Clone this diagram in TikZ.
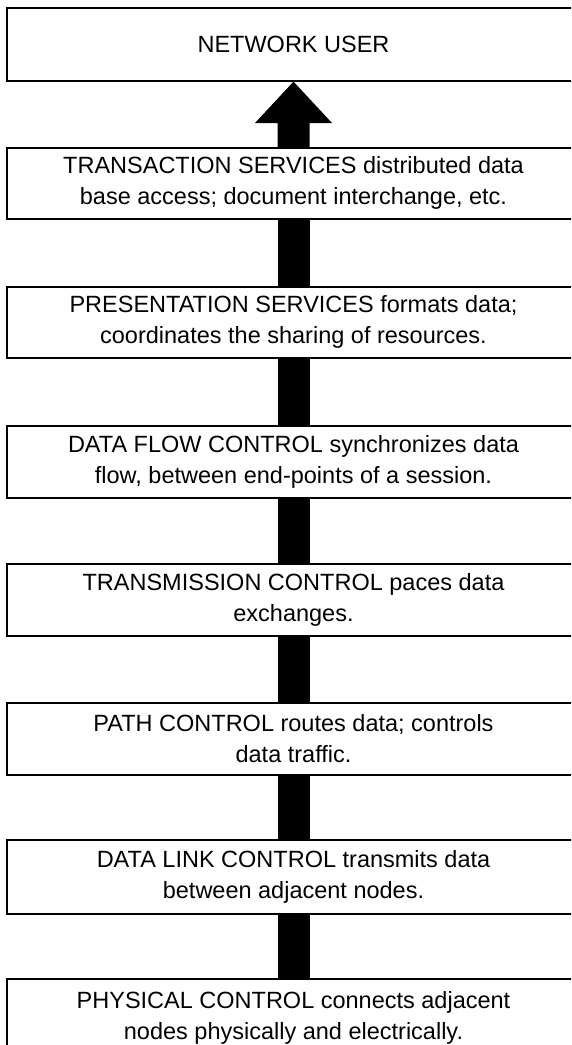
\documentclass[tikz,border=0pt]{standalone}
\usepackage{fontspec}
\setmainfont{Liberation Sans}
\begin{document}
\begin{tikzpicture}[x=1pt,y=1pt,
  layerbox/.style={draw=black, line width=1.6pt, fill=white, rectangle, anchor=north,
    minimum width=573pt, inner sep=0pt, align=center,
    font=\fontsize{23.5}{31}\selectfont},
  shaft/.style={fill=black}]
\useasboundingbox (0,0) rectangle (571,-1045);
\clip (0,0) rectangle (571,-1045);
\node[layerbox, minimum height=73pt] (b1) at (293.5,-7) {NETWORK USER};
\node[layerbox, minimum height=71pt] (b2) at (293.5,-147) {TRANSACTION SERVICES distributed data\\base access; document interchange, etc.};
\node[layerbox, minimum height=71pt] (b3) at (293.5,-286) {PRESENTATION SERVICES formats data;\\coordinates the sharing of resources.};
\node[layerbox, minimum height=72pt] (b4) at (293.5,-425) {DATA FLOW CONTROL synchronizes data\\flow, between end-points of a session.};
\node[layerbox, minimum height=72pt] (b5) at (293.5,-563) {TRANSMISSION CONTROL paces data\\exchanges.};
\node[layerbox, minimum height=72pt] (b6) at (293.5,-702) {PATH CONTROL routes data; controls\\data traffic.};
\node[layerbox, minimum height=74pt] (b7) at (293.5,-839) {DATA LINK CONTROL transmits data\\between adjacent nodes.};
\node[layerbox, minimum height=78pt] (b8) at (293.5,-978) {PHYSICAL CONTROL connects adjacent\\nodes physically and electrically.};
% arrow head base
\coordinate (hb) at (293.5,-123);
\fill[shaft] ([xshift=-16pt]b2.north) -- ([xshift=-16pt]b2.north |- hb) -- ([xshift=-38.5pt]b2.north |- hb)
  -- (b1.south) -- ([xshift=38.5pt]b2.north |- hb) -- ([xshift=16pt]b2.north |- hb) -- ([xshift=16pt]b2.north) -- cycle;
\foreach \u/\l in {b2/b3,b3/b4,b4/b5,b5/b6,b6/b7,b7/b8}{
  \fill[shaft] ([xshift=-16pt]\u.south) rectangle ([xshift=16pt]\l.north);
}
\end{tikzpicture}
\end{document}
